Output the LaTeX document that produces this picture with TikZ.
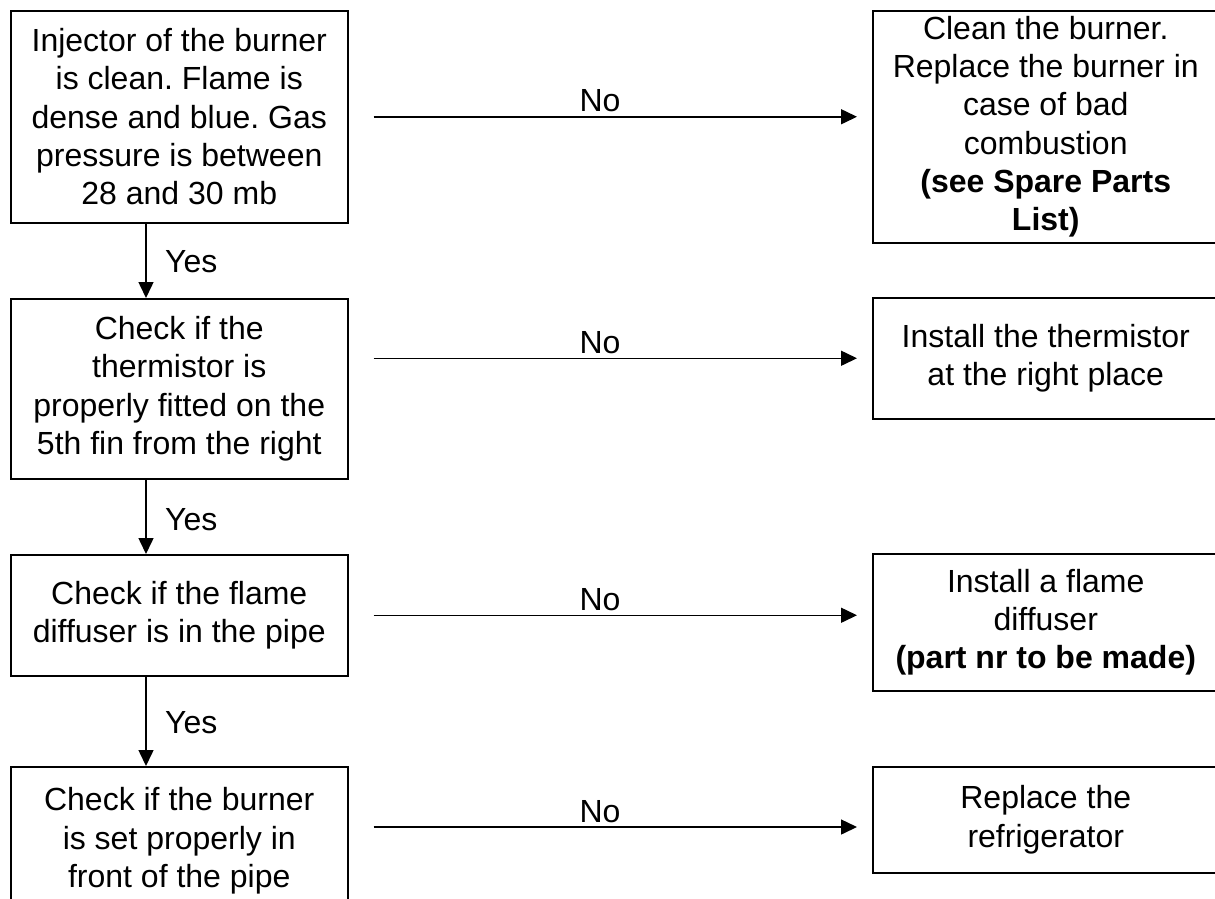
\documentclass[tikz,border=0pt]{standalone}
\usepackage{fontspec}
\setmainfont{Liberation Sans}
\usetikzlibrary{arrows.meta}
\frenchspacing
\begin{document}
\begin{tikzpicture}[x=1pt,y=-1pt,
  box/.style={draw, line width=1.5pt, rectangle, inner sep=0pt, anchor=north west,
    align=center, font=\fontsize{32}{38.3}\selectfont\frenchspacing},
  conn/.style={line width=1.5pt, -{Triangle[length=16pt,width=15pt]}},
  noconn/.style={conn, shorten <=25pt, shorten >=15pt},
  lbl/.style={anchor=base, inner sep=0pt, font=\fontsize{32}{38.3}\selectfont},
  ylbl/.style={anchor=base west, inner sep=0pt, font=\fontsize{32}{38.3}\selectfont}]
\useasboundingbox (0,0) rectangle (1215,898);

% left column
\node[box, minimum width=337pt, minimum height=212pt] (L1) at (10,10)
  {Injector of the burner\\is clean. Flame is\\dense and blue. Gas\\pressure is between\\28 and 30 mb};
\node[box, minimum width=337pt, minimum height=180pt] (L2) at (10,298)
  {Check if the\\thermistor is\\properly fitted on the\\5th fin from the right};
\node[box, minimum width=337pt, minimum height=121pt] (L3) at (10,554)
  {Check if the flame\\diffuser is in the pipe};
\node[box, minimum width=337pt, minimum height=148pt] (L4) at (10,766)
  {Check if the burner\\is set properly in\\front of the pipe};

% right column
\node[box, minimum width=346pt, minimum height=232pt] (R1) at (872,10)
  {Clean the burner.\\Replace the burner in\\case of bad\\combustion\\\textbf{(see Spare Parts}\\\textbf{List)}};
\node[box, minimum width=346pt, minimum height=121pt] (R2) at (872,297)
  {Install the thermistor\\at the right place};
\node[box, minimum width=346pt, minimum height=137pt] (R3) at (872,553)
  {Install a flame\\diffuser\\\textbf{(part nr to be made)}};
\node[box, minimum width=346pt, minimum height=106pt] (R4) at (872,766)
  {Replace the\\refrigerator};

% vertical Yes connectors
\coordinate (vx) at (146,0);
\draw[conn] (L1.south -| vx) -- (L2.north -| vx);
\draw[conn] (L2.south -| vx) -- (L3.north -| vx);
\draw[conn] (L3.south -| vx) -- (L4.north -| vx);
\node[ylbl] (y1) at (165,272) {Yes};
\node[ylbl] (y2) at (165,530) {Yes};
\node[ylbl] (y3) at (165,733) {Yes};

% horizontal No connectors
\coordinate (h4) at (0,827);
\draw[noconn] (L1.east) -- (L1.east -| R1.west);
\draw[noconn] (R2.west -| L2.east) -- (R2.west);
\draw[noconn] (L3.east) -- (L3.east -| R3.west);
\draw[noconn] (L4.east |- h4) -- (R4.west |- h4);
\node[lbl] (n1) at (600,111.5) {No};
\node[lbl] (n2) at (600,353.5) {No};
\node[lbl] (n3) at (600,610.5) {No};
\node[lbl] (n4) at (600,822) {No};
\end{tikzpicture}
\end{document}
